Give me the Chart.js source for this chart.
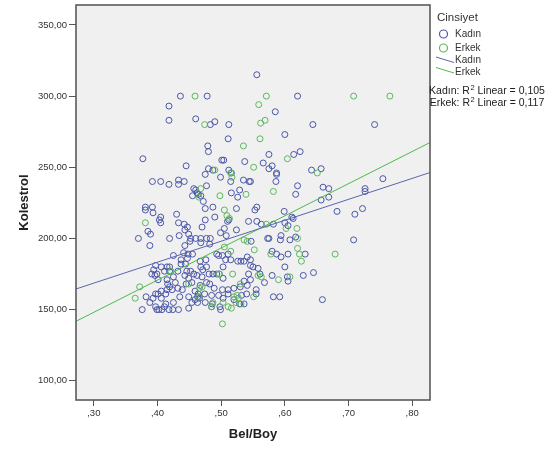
<!DOCTYPE html>
<html>
<head>
<meta charset="utf-8">
<script src="https://cdn.jsdelivr.net/npm/chart.js@4.4.0/dist/chart.umd.min.js"></script>
<style>
  html, body { margin: 0; padding: 0; background: #fff; }
  #wrap { position: relative; width: 548px; height: 449px; font-family: "Liberation Sans", Arial, sans-serif; color: #222; }
  #chart { position: absolute; left: 0; top: 0; }
  .lg { position: absolute; white-space: nowrap; }
  .lg.title { font-size: 11.5px; line-height: 14px; color: #333; }
  .lg.item { font-size: 10px; line-height: 12px; color: #333; }
  .lg.r2 { font-size: 10.5px; line-height: 13px; left: 426px; width: 122px; text-align: center; color: #222; }
  .lg.r2 .sup { display: inline-block; font-size: 7.5px; line-height: 8px; position: relative; top: -4px; margin-left: 0.5px; }
  #marks { position: absolute; left: 0; top: 0; }
</style>
</head>
<body>
<div id="wrap">
  <canvas id="chart" width="548" height="449"></canvas>
  <svg id="marks" width="548" height="449">
    <circle cx="443.5" cy="34" r="4" fill="none" stroke="#4b57a8" stroke-width="1.2"/>
    <circle cx="443.5" cy="48" r="4" fill="none" stroke="#5cb85c" stroke-width="1.2"/>
    <line x1="436" y1="57" x2="454" y2="62.5" stroke="#5965b0" stroke-width="1"/>
    <line x1="436" y1="67.5" x2="454" y2="73" stroke="#4cbb4c" stroke-width="1"/>
  </svg>
  <div class="lg title" style="left:437px; top:10px">Cinsiyet</div>
  <div class="lg item" style="left:455px; top:28px">Kadın</div>
  <div class="lg item" style="left:455px; top:42px">Erkek</div>
  <div class="lg item" style="left:455px; top:54px">Kadın</div>
  <div class="lg item" style="left:455px; top:66px">Erkek</div>
  <div class="lg r2" style="top:83.5px">Kadın: R<span class="sup">2</span> Linear = 0,105</div>
  <div class="lg r2" style="top:96px">Erkek: R<span class="sup">2</span> Linear = 0,117</div>
</div>
<script>
// Bel/Boy vs Kolestrol
const xTicks = [0.3, 0.4, 0.5, 0.6, 0.7, 0.8];
const yTicks = [100, 150, 200, 250, 300, 350];

const kadinPoints = [
  [0.556,315],[0.436,300],[0.478,300],[0.620,300],[0.418,293],[0.418,283],[0.460,284],[0.490,282],
  [0.483,280],[0.512,280],[0.585,289],[0.644,280],[0.741,280],[0.511,270],[0.600,273],[0.479,265],
  [0.480,261],[0.377,256],[0.575,259],[0.614,259],[0.624,261],[0.445,251],[0.501,255],[0.504,255],
  [0.537,254],[0.566,253],[0.580,251],[0.480,249],[0.487,248],[0.512,248],[0.516,246],[0.575,249],
  [0.587,246],[0.587,245],[0.642,248],[0.657,249],[0.475,245],[0.392,240],[0.405,240],[0.418,238],
  [0.433,241],[0.433,238],[0.442,240],[0.499,243],[0.515,240],[0.535,241],[0.544,240],[0.546,240],
  [0.586,240],[0.460,234],[0.457,235],[0.462,232],[0.455,230],[0.468,230],[0.477,237],[0.516,232],
  [0.529,234],[0.526,229],[0.620,237],[0.617,231],[0.660,236],[0.669,235],[0.726,235],[0.726,233],
  [0.754,242],[0.669,229],[0.657,227],[0.556,222],[0.553,220],[0.487,222],[0.475,221],[0.524,221],
  [0.381,222],[0.381,220],[0.392,222],[0.393,218],[0.430,217],[0.405,215],[0.403,213],[0.405,211],
  [0.433,211],[0.442,210],[0.447,208],[0.490,215],[0.475,213],[0.512,213],[0.510,212],[0.543,212],
  [0.556,212],[0.563,210],[0.582,210],[0.599,219],[0.611,215],[0.613,214],[0.600,211],[0.605,209],
  [0.682,219],[0.710,217],[0.722,221],[0.370,200],[0.385,205],[0.389,203],[0.388,195],[0.419,200],
  [0.434,202],[0.449,203],[0.452,200],[0.460,200],[0.468,200],[0.477,200],[0.483,200],[0.470,208],
  [0.468,197],[0.482,196],[0.499,204],[0.508,202],[0.524,206],[0.547,198],[0.573,200],[0.575,200],
  [0.594,202],[0.593,199],[0.608,199],[0.617,201],[0.708,199],[0.505,207],[0.472,226],[0.464,231],
  [0.443,206],[0.451,198],[0.443,195],[0.441,190],[0.437,185],[0.437,182],[0.444,182],[0.448,189],
  [0.455,189],[0.394,178],[0.399,175],[0.396,174],[0.391,175],[0.401,171],[0.406,180],[0.415,180],
  [0.419,180],[0.411,177],[0.419,177],[0.425,173],[0.415,171],[0.432,177],[0.428,169],[0.416,168],
  [0.419,166],[0.423,164],[0.415,164],[0.413,161],[0.406,163],[0.401,161],[0.397,161],[0.393,158],
  [0.406,158],[0.382,159],[0.388,155],[0.376,150],[0.397,152],[0.399,150],[0.402,150],[0.407,150],
  [0.411,152],[0.418,150],[0.424,150],[0.433,150],[0.413,154],[0.425,155],[0.435,159],[0.439,164],
  [0.432,165],[0.449,151],[0.449,159],[0.454,155],[0.459,157],[0.463,159],[0.466,158],[0.463,155],
  [0.475,155],[0.486,154],[0.485,152],[0.498,152],[0.499,150],[0.445,168],[0.449,172],[0.457,175],
  [0.462,174],[0.468,180],[0.471,178],[0.477,180],[0.481,175],[0.487,175],[0.493,175],[0.497,175],
  [0.467,184],[0.476,185],[0.493,189],[0.496,188],[0.502,188],[0.511,189],[0.515,185],[0.507,185],
  [0.503,180],[0.526,184],[0.531,184],[0.536,184],[0.541,187],[0.546,185],[0.546,181],[0.550,180],
  [0.543,175],[0.558,179],[0.561,175],[0.546,171],[0.536,170],[0.541,167],[0.555,164],[0.555,161],
  [0.568,169],[0.580,174],[0.580,191],[0.587,189],[0.594,187],[0.605,189],[0.632,189],[0.600,180],
  [0.604,173],[0.605,170],[0.629,174],[0.645,176],[0.659,157],[0.582,159],[0.592,159],[0.502,164],
  [0.511,164],[0.511,161],[0.489,165],[0.482,168],[0.485,160],[0.496,160],[0.503,158],[0.520,165],
  [0.530,166],[0.532,160],[0.540,161],[0.536,154],[0.529,154],[0.520,157],[0.464,161],[0.474,161],
  [0.459,163],[0.454,169],[0.446,177],[0.452,177],[0.470,173],[0.447,186],[0.425,188],[0.397,181],
  [0.443,174],[0.467,167],[0.477,169],[0.503,172]
];

const erkekPoints = [
  [0.459,300],[0.571,300],[0.708,300],[0.765,300],[0.559,294],[0.474,280],[0.562,281],[0.569,283],
  [0.561,270],[0.535,265],[0.604,256],[0.551,250],[0.490,248],[0.515,246],[0.517,243],[0.651,246],
  [0.468,235],[0.465,229],[0.498,230],[0.539,231],[0.582,233],[0.505,220],[0.509,216],[0.513,214],
  [0.571,210],[0.381,211],[0.602,207],[0.619,207],[0.620,200],[0.536,199],[0.541,198],[0.552,192],
  [0.505,194],[0.515,191],[0.620,193],[0.623,189],[0.578,189],[0.626,184],[0.679,189],[0.372,166],
  [0.365,158],[0.421,177],[0.449,168],[0.466,165],[0.470,166],[0.497,175],[0.518,175],[0.558,174],
  [0.563,173],[0.590,171],[0.608,173],[0.530,168],[0.487,155],[0.485,152],[0.503,155],[0.511,152],
  [0.516,151],[0.520,159],[0.525,160],[0.527,158],[0.523,155],[0.531,154],[0.551,159],[0.502,140],
  [0.465,159]
];

// fit lines, end points read at the frame edges
const kadinFitX = [0.272, 0.828];
const kadinFitY = [164.5, 246.3];
const erkekFitX = [0.272, 0.828];
const erkekFitY = [141.8, 267.4];

const BLUE = '#4b57a8';
const GREEN = '#5cb85c';
const FONT = '"Liberation Sans", Arial, sans-serif';

const toXY = pts => pts.map(p => ({ x: p[0], y: p[1] }));
const zip = (xs, ys) => xs.map((x, i) => ({ x, y: ys[i] }));

const framePlugin = {
  id: 'frame',
  beforeDraw(chart) {
    const { ctx, chartArea: a } = chart;
    ctx.save();
    ctx.fillStyle = '#f0f0f0';
    ctx.fillRect(a.left, a.top, a.right - a.left, a.bottom - a.top);
    ctx.restore();
  },
  afterDraw(chart) {
    const { ctx, chartArea: a } = chart;
    ctx.save();
    ctx.strokeStyle = '#5a5a5a';
    ctx.lineWidth = 1.6;
    ctx.strokeRect(a.left, a.top, a.right - a.left, a.bottom - a.top);
    ctx.restore();
  }
};

new Chart(document.getElementById('chart'), {
  type: 'scatter',
  data: {
    datasets: [
      {
        label: 'Kadın',
        data: toXY(kadinPoints),
        borderColor: BLUE, backgroundColor: 'transparent',
        pointRadius: 3, pointBorderWidth: 1, order: 2,
      },
      {
        label: 'Erkek',
        data: toXY(erkekPoints),
        borderColor: GREEN, backgroundColor: 'transparent',
        pointRadius: 3, pointBorderWidth: 1, order: 1,
      },
      {
        label: 'Kadın fit',
        data: zip(kadinFitX, kadinFitY),
        showLine: true, borderColor: '#5965b0', borderWidth: 1,
        pointRadius: 0, order: 0,
      },
      {
        label: 'Erkek fit',
        data: zip(erkekFitX, erkekFitY),
        showLine: true, borderColor: '#4cbb4c', borderWidth: 1,
        pointRadius: 0, order: 0,
      },
    ],
  },
  options: {
    responsive: false,
    animation: false,
    devicePixelRatio: 1,
    layout: { padding: { top: 4, right: 118, left: 0, bottom: 0 } },
    plugins: { legend: { display: false }, tooltip: { enabled: false } },
    scales: {
      x: {
        type: 'linear', min: 0.272, max: 0.828,
        afterBuildTicks: s => { s.ticks = xTicks.map(v => ({ value: v })); },
        afterFit: s => { s.height = 49; s.paddingLeft = 0; s.paddingRight = 0; },
        grid: { drawOnChartArea: false, drawTicks: true, tickLength: 6, color: '#555' },
        border: { display: false },
        ticks: {
          padding: 2, color: '#333', maxRotation: 0, autoSkip: false,
          font: { size: 9.5, family: FONT },
          callback: v => v.toFixed(2).replace('0.', ','),
        },
        title: {
          display: true, text: 'Bel/Boy', color: '#222',
          font: { size: 13, weight: 'bold', family: FONT },
          padding: { top: 0, bottom: 7 },
        },
      },
      y: {
        type: 'linear', min: 86.5, max: 364,
        afterBuildTicks: s => { s.ticks = yTicks.map(v => ({ value: v })); },
        afterFit: s => { s.width = 76; s.paddingTop = 0; s.paddingBottom = 0; },
        grid: { drawOnChartArea: false, drawTicks: true, tickLength: 7, color: '#555' },
        border: { display: false },
        ticks: {
          padding: 2, color: '#333', autoSkip: false,
          font: { size: 9.5, family: FONT },
          callback: v => v.toFixed(2).replace('.', ','),
        },
        title: {
          display: true, text: 'Kolestrol', color: '#222',
          font: { size: 13, weight: 'bold', family: FONT },
          padding: { top: 17, bottom: 0 },
        },
      },
    },
  },
  plugins: [framePlugin],
});
</script>
</body>
</html>
